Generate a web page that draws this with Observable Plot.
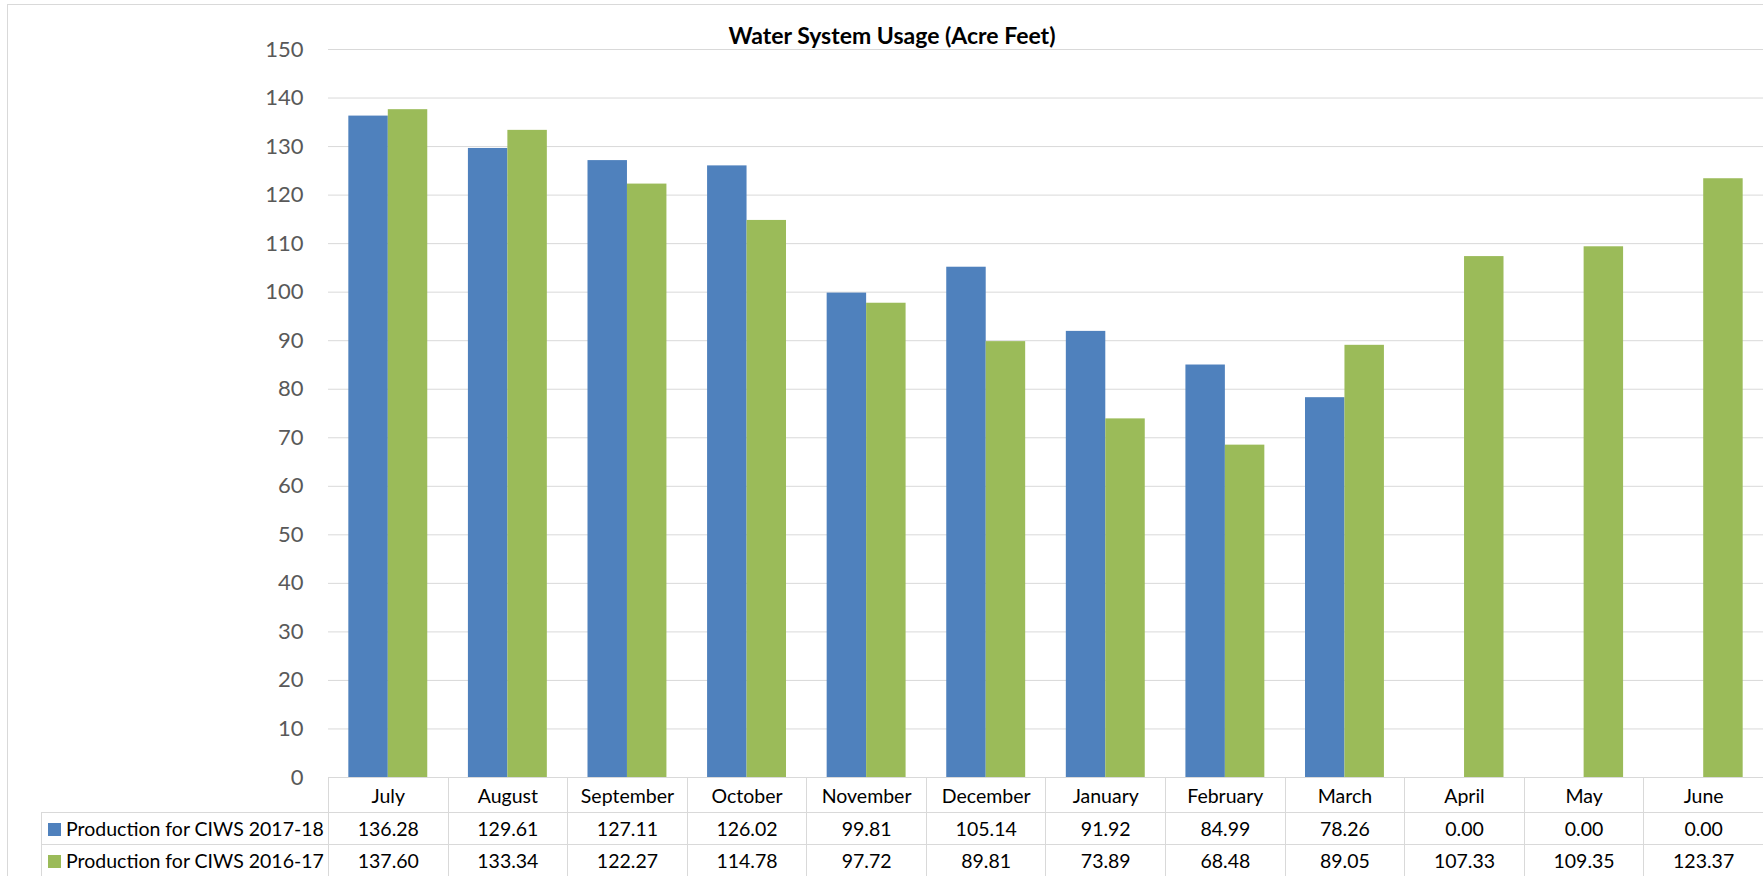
<!DOCTYPE html>
<html>
<head>
<meta charset="utf-8">
<script src="https://cdn.jsdelivr.net/npm/d3@7"></script>
<script src="https://cdn.jsdelivr.net/npm/@observablehq/plot@0.6"></script>
<style>
  html, body { margin: 0; padding: 0; background: #fff; overflow: hidden; }
  #wrap { position: relative; width: 1763px; height: 876px; overflow: hidden; font-family: Lato, "Open Sans", sans-serif; }
  #frame { position: absolute; left: 7px; top: 4px; width: 1800px; height: 900px; border: 1px solid #d9d9d9; box-sizing: border-box; }
  #title { position: absolute; left: 0; top: 0; width: 1784px; height: 44px; text-align: center; font-weight: bold; font-size: 23px; line-height: 27.6px; padding-top: 21.6px; box-sizing: border-box; color: #000; white-space: nowrap; }
  .layer { position: absolute; left: 0; top: 44px; }
  #tbl { position: absolute; left: 41px; top: 777px; border-collapse: collapse; table-layout: fixed; font-size: 19.5px; color: #000; }
  #tbl td { border: 1px solid #d9d9d9; text-align: center; padding: 0; white-space: nowrap; overflow: hidden; }
  #tbl td.blank { border-top: none; border-left: none; }
  #tbl td.leg { text-align: left; padding-left: 6px; }
  .sw { display: inline-block; width: 13px; height: 13px; margin-right: 5px; }
</style>
</head>
<body>
<div id="wrap">
  <div id="frame"></div>
  <div id="title">Water System Usage (Acre Feet)</div>
  <div id="gridLayer" class="layer"></div>
  <div id="barLayer" class="layer"></div>
  <table id="tbl"></table>
</div>
<script>
const months = ["July","August","September","October","November","December","January","February","March","April","May","June"];
const seriesNames = ["Production for CIWS 2017-18", "Production for CIWS 2016-17"];
const prod2017_18 = [136.28,129.61,127.11,126.02,99.81,105.14,91.92,84.99,78.26,0.00,0.00,0.00];
const prod2016_17 = [137.60,133.34,122.27,114.78,97.72,89.81,73.89,68.48,89.05,107.33,109.35,123.37];
const yTicks = [0,10,20,30,40,50,60,70,80,90,100,110,120,130,140,150];
const colors = ["#4F81BD", "#9BBB59"];

const seriesValues = [prod2017_18, prod2016_17];
const data = months.flatMap((m, i) => seriesNames.map((s, j) => ({month: m, series: s, value: seriesValues[j][i]})));

const W = 1763, LEFT = 328;
const common = {
  width: W,
  height: 733,
  marginLeft: LEFT,
  marginRight: 0,
  marginTop: 5,
  marginBottom: 0,
  style: {fontFamily: "Lato, 'Open Sans', sans-serif", fontSize: "22px", color: "#595959", background: "transparent", overflow: "visible"},
  y: {domain: [0, 150], axis: null}
};

// back layer: value axis and horizontal gridlines across the whole plot area
const back = Plot.plot({
  ...common,
  x: {axis: null},
  marks: [
    Plot.gridY(yTicks, {stroke: "#d9d9d9", strokeOpacity: 1, strokeWidth: 1}),
    Plot.axisY(yTicks, {tickSize: 0, tickPadding: 25, fill: "#595959", fontSize: 22, tickFormat: d => d})
  ]
});
document.getElementById("gridLayer").appendChild(back);

// front layer: grouped bars, one facet per month
const front = Plot.plot({
  ...common,
  fx: {domain: months, paddingInner: 0.34, paddingOuter: 0.17, axis: null, round: false},
  x: {domain: seriesNames, padding: 0, axis: null, round: false},
  color: {domain: seriesNames, range: colors},
  marks: [
    Plot.barY(data, {fx: "month", x: "series", y: "value", fill: "series"})
  ]
});
document.getElementById("barLayer").appendChild(front);

// data table under the chart
const tbl = document.getElementById("tbl");
const colW = (W - LEFT) / months.length;
const cg = document.createElement("colgroup");
const c0 = document.createElement("col"); c0.style.width = (LEFT - 41) + "px"; cg.appendChild(c0);
months.forEach(() => { const c = document.createElement("col"); c.style.width = colW + "px"; cg.appendChild(c); });
tbl.appendChild(cg);
tbl.style.width = (W - 41) + "px";
const hdr = document.createElement("tr"); hdr.style.height = "35px";
const blank = document.createElement("td"); blank.className = "blank"; hdr.appendChild(blank);
months.forEach(m => { const td = document.createElement("td"); td.textContent = m; hdr.appendChild(td); });
tbl.appendChild(hdr);
seriesNames.forEach((s, j) => {
  const tr = document.createElement("tr"); tr.style.height = "32px";
  const td0 = document.createElement("td"); td0.className = "leg";
  const sw = document.createElement("span"); sw.className = "sw"; sw.style.background = colors[j];
  td0.appendChild(sw); td0.appendChild(document.createTextNode(s));
  tr.appendChild(td0);
  seriesValues[j].forEach(v => { const td = document.createElement("td"); td.textContent = v.toFixed(2); tr.appendChild(td); });
  tbl.appendChild(tr);
});
</script>
</body>
</html>
